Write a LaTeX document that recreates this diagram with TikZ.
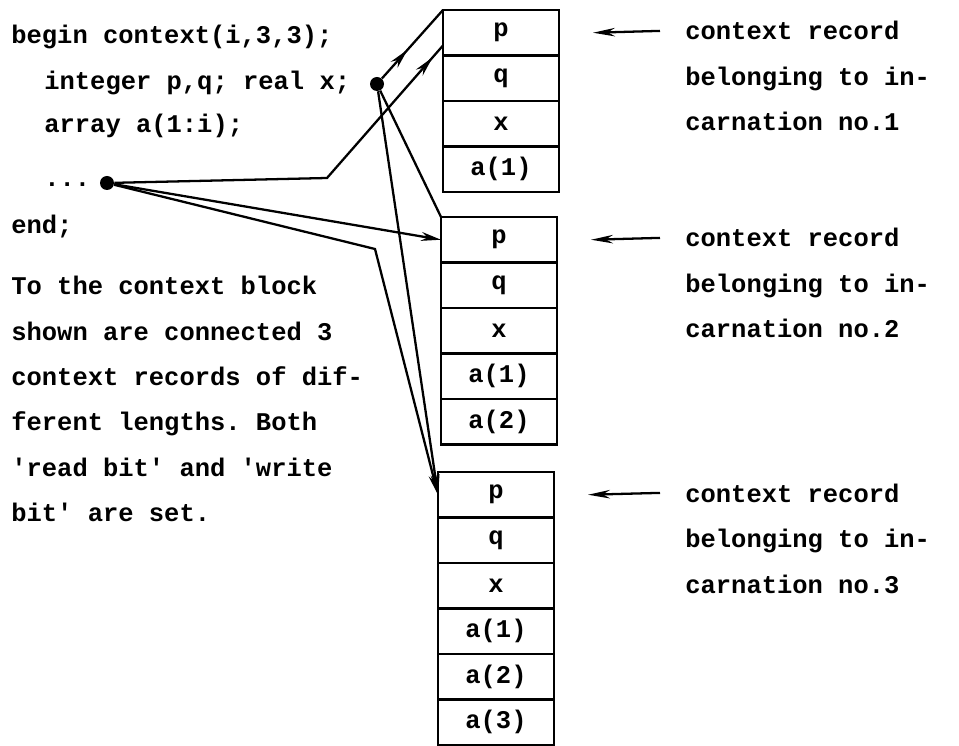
\documentclass[tikz,border=0pt]{standalone}
\usepackage{fontspec}
\usepackage{tikz}
\usetikzlibrary{arrows.meta, positioning, decorations.markings}
\setmonofont{Liberation Mono}
\newcommand{\policecode}{\fontsize{14.5}{25.9}\selectfont\ttfamily\bfseries}
\tikzset{
  cellule/.style={rectangle, draw, line width=1.5pt, minimum width=23.2mm,
    minimum height=9.1mm, inner sep=0pt, outer sep=0pt, font=\policecode},
  texte/.style={anchor=base west, inner sep=0pt, font=\policecode},
  point/.style={circle, fill, inner sep=0pt, minimum size=2.8mm},
  lien/.style={line width=1.3pt},
  fleche/.style={lien, -{Stealth[length=4mm, width=1.8mm]}},
  flechemilieu/.style={lien, postaction={decorate}, decoration={markings,
    mark=at position #1 with {\arrow{Stealth[length=4mm, width=1.8mm]}}}},
  renvoi/.style={line width=1.3pt, {Stealth[length=4.4mm, width=1.7mm]}-}
}

\begin{document}
\begin{tikzpicture}[x=0.2mm, y=-0.2mm, node distance=0pt]
    \useasboundingbox (0,0) rectangle (959,746);

    % Bloc de contexte
    \node[texte] (l1) at (11,44) {begin context(i,3,3);};
    \node[texte] (l2) at (44,90) {integer p,q; real x;};
    \node[texte] (l3) at (44,133) {array a(1:i);};
    \node[texte] (l4) at (44,187) {...};
    \node[texte] (l5) at (11,234) {end;};
    \node[point] (pa) at (377,84) {};
    \node[point] (pb) at (107,183) {};

    % Commentaire sous le bloc
    \node[texte] (c1) at (11,295) {To the context block};
    \node[texte] (c2) at (11,340.5) {shown are connected 3};
    \node[texte] (c3) at (11,386) {context records of dif-};
    \node[texte] (c4) at (11,431) {ferent lengths. Both};
    \node[texte] (c5) at (11,476.5) {'read bit' and 'write};
    \node[texte] (c6) at (11,522) {bit' are set.};

    % Incarnation 1
    \node[cellule, anchor=north west] (b1p) at (443,10) {p};
    \node[cellule, below=of b1p] (b1q) {q};
    \node[cellule, below=of b1q] (b1x) {x};
    \node[cellule, below=of b1x] (b1a1) {a(1)};

    % Incarnation 2
    \node[cellule, anchor=north west] (b2p) at (441,217) {p};
    \node[cellule, below=of b2p] (b2q) {q};
    \node[cellule, below=of b2q] (b2x) {x};
    \node[cellule, below=of b2x] (b2a1) {a(1)};
    \node[cellule, below=of b2a1] (b2a2) {a(2)};

    % Incarnation 3
    \node[cellule, anchor=north west] (b3p) at (438,472) {p};
    \node[cellule, below=of b3p] (b3q) {q};
    \node[cellule, below=of b3q] (b3x) {x};
    \node[cellule, below=of b3x] (b3a1) {a(1)};
    \node[cellule, below=of b3a1] (b3a2) {a(2)};
    \node[cellule, below=of b3a2] (b3a3) {a(3)};

    % Legendes a droite
    \node[texte] (e1a) at (685,40) {context record};
    \node[texte] (e1b) at (685,85.5) {belonging to in-};
    \node[texte] (e1c) at (685,131) {carnation no.1};
    \node[texte] (e2a) at (685,247) {context record};
    \node[texte] (e2b) at (685,292.5) {belonging to in-};
    \node[texte] (e2c) at (685,338) {carnation no.2};
    \node[texte] (e3a) at (685,502) {context record};
    \node[texte] (e3b) at (685,547.5) {belonging to in-};
    \node[texte] (e3c) at (685,593) {carnation no.3};
    \draw[renvoi] ([xshift=6.8mm]b1p.east) -- ([xshift=-5mm]e1a.west);
    \draw[renvoi] ([xshift=6.8mm]b2p.east) -- ([xshift=-5mm]e2a.west);
    \draw[renvoi] ([xshift=6.8mm]b3p.east) -- ([xshift=-5mm]e3a.west);

    % Pointeurs entre le bloc et les enregistrements
    \coordinate (k1) at (327,178);
    \coordinate (k2) at (375,249);
    \draw[flechemilieu=0.42] (pa) -- (b1p.north west);
    \draw[flechemilieu=0.96] (pb) -- (k1) -- ([yshift=2mm]b1p.south west);
    \draw[lien] (pa) -- (b2p.north west);
    \draw[fleche] (pa) -- (b3p.west);
    \draw[fleche] (pb) -- (b2p.west);
    \draw[fleche] (pb) -- (k2) -- (b3p.west);
\end{tikzpicture}
\end{document}
